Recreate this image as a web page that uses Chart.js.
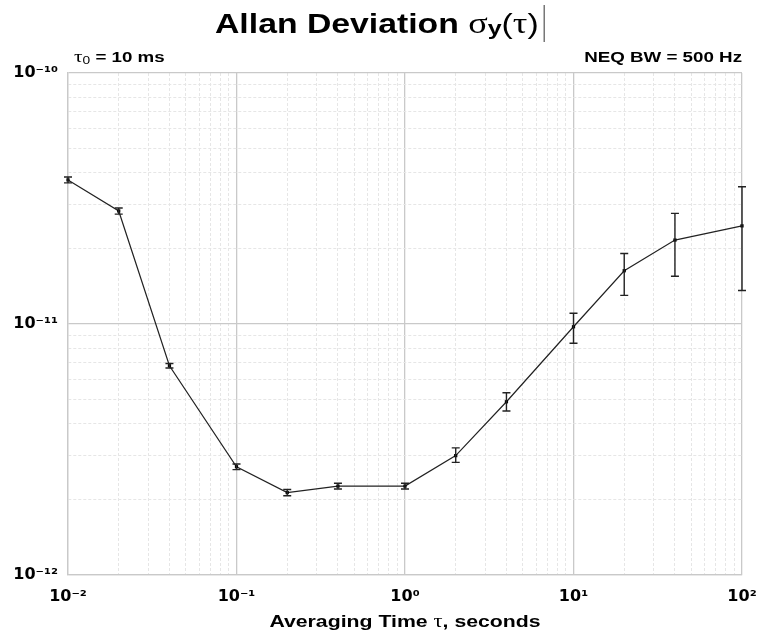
<!DOCTYPE html>
<html>
<head>
<meta charset="utf-8">
<title>Allan Deviation</title>
<script src="https://cdn.jsdelivr.net/npm/chart.js@4/dist/chart.umd.min.js"></script>
<style>
    html, body { margin: 0; padding: 0; background: #fff; }
    #wrap { width: 759px; height: 636px; position: relative; }
</style>
</head>
<body>
<div id="wrap"><canvas id="myChart"></canvas></div>
<script>
// Averaging times (s) and measured Allan deviation
const tau = [0.01, 0.02, 0.04, 0.1, 0.2, 0.4, 1, 2, 4, 10, 20, 40, 100];
const adev = [3.75e-11, 2.82e-11, 6.82e-12, 2.70e-12, 2.13e-12, 2.26e-12, 2.26e-12,
              2.99e-12, 4.90e-12, 9.75e-12, 1.63e-11, 2.16e-11, 2.46e-11];
// error bar ends
const errLow = [3.65e-11, 2.74e-11, 6.68e-12, 2.63e-12, 2.07e-12, 2.20e-12, 2.20e-12,
                2.81e-12, 4.50e-12, 8.38e-12, 1.30e-11, 1.55e-11, 1.36e-11];
const errHigh = [3.85e-11, 2.90e-11, 6.96e-12, 2.77e-12, 2.19e-12, 2.32e-12, 2.32e-12,
                 3.21e-12, 5.32e-12, 1.104e-11, 1.91e-11, 2.76e-11, 3.52e-11];

// ticks
const xDecades = [1e-2, 1e-1, 1, 10, 100];
const xTickLabels = ['10⁻²', '10⁻¹', '10⁰', '10¹', '10²'];
const yDecades = [1e-12, 1e-11, 1e-10];
const yTickLabels = ['10⁻¹²', '10⁻¹¹', '10⁻¹⁰'];
const minorSteps = [2, 3, 4, 5, 6, 7, 8, 9];

const SX = 1.25; // the original lettering is a bit wide

function gridTicks(decades) {
    const out = [];
    decades.forEach((d, i) => {
        out.push({ value: d });
        if (i < decades.length - 1) {
            minorSteps.forEach(m => out.push({ value: +(m * d).toPrecision(3) }));
        }
    });
    return out;
}

function isDecade(v) {
    const l = Math.log10(v);
    return Math.abs(l - Math.round(l)) < 1e-6;
}

function labelFor(v, decades, labels) {
    const i = decades.findIndex(d => Math.abs(Math.log10(d) - Math.log10(v)) < 1e-6);
    return i >= 0 ? labels[i] : '';
}

const gridStyle = {
    color: c => (c.tick && isDecade(c.tick.value)) ? '#c9c9c9' : '#e6e6e6',
    lineWidth: c => (c.tick && isDecade(c.tick.value)) ? 1.3 : 1,
    drawTicks: false
};
const borderStyle = {
    color: '#c9c9c9',
    width: 1.3,
    dash: c => (c.tick && !isDecade(c.tick.value)) ? [3, 2] : []
};
const tickFont = { family: '"DejaVu Sans", sans-serif', size: 16, weight: 'bold' };

// text drawn a bit stretched sideways
function wideText(ctx, parts, x, y, align) {
    ctx.save();
    let w = 0;
    parts.forEach(p => { ctx.font = p.font; w += ctx.measureText(p.text).width; });
    let startX = align === 'right' ? x - w * SX : align === 'center' ? x - w * SX / 2 : x;
    ctx.translate(startX, y);
    ctx.scale(SX, 1);
    ctx.textBaseline = 'alphabetic';
    ctx.textAlign = 'left';
    ctx.fillStyle = '#000';
    let cx = 0;
    parts.forEach(p => {
        ctx.font = p.font;
        ctx.fillText(p.text, cx, p.dy || 0);
        cx += ctx.measureText(p.text).width;
    });
    ctx.restore();
    return w * SX;
}

const textPlugin = {
    id: 'textPlugin',
    afterDraw(chart) {
        const ctx = chart.ctx;
        const area = chart.chartArea;
        const sans = '"Liberation Sans", Arial, sans-serif';
        const serif = '"Liberation Serif", "DejaVu Serif", serif';

        // main title
        const tw = wideText(ctx, [
            { text: 'Allan Deviation ', font: 'bold 27px ' + sans },
            { text: 'σ', font: '29px ' + serif },
            { text: 'y', font: 'bold 20px ' + sans, dy: 2 },
            { text: '(', font: '27px ' + sans },
            { text: 'τ', font: '29px ' + serif },
            { text: ')', font: '27px ' + sans }
        ], 215, 33, 'left');
        ctx.save();
        ctx.strokeStyle = '#333';
        ctx.lineWidth = 1;
        ctx.beginPath();
        ctx.moveTo(215 + tw + 5.5, 5);
        ctx.lineTo(215 + tw + 5.5, 42);
        ctx.stroke();
        ctx.restore();

        wideText(ctx, [
            { text: 'τ', font: '17px ' + serif },
            { text: '0', font: '11px ' + sans, dy: 2 },
            { text: ' = 10 ms', font: 'bold 15px ' + sans }
        ], area.left + 6, 62, 'left');

        wideText(ctx, [
            { text: 'NEQ BW = 500 Hz', font: 'bold 15px ' + sans }
        ], area.right, 62, 'right');

        // x axis title
        wideText(ctx, [
            { text: 'Averaging Time ', font: 'bold 17px ' + sans },
            { text: 'τ', font: '18px ' + serif },
            { text: ', seconds', font: 'bold 17px ' + sans }
        ], (area.left + area.right) / 2, 627, 'center');
    }
};

const errorBarPlugin = {
    id: 'errorBars',
    afterDatasetsDraw(chart) {
        const ctx = chart.ctx;
        const xs = chart.scales.x;
        const ys = chart.scales.y;
        ctx.save();
        ctx.strokeStyle = '#222';
        ctx.lineWidth = 1.4;
        tau.forEach((t, i) => {
            const x = xs.getPixelForValue(t);
            const y1 = ys.getPixelForValue(errLow[i]);
            const y2 = ys.getPixelForValue(errHigh[i]);
            ctx.beginPath();
            ctx.moveTo(x, y1);
            ctx.lineTo(x, y2);
            ctx.moveTo(x - 4, y1);
            ctx.lineTo(x + 4, y1);
            ctx.moveTo(x - 4, y2);
            ctx.lineTo(x + 4, y2);
            ctx.stroke();
        });
        ctx.restore();
    }
};

function updateChart() {
    const ctx = document.getElementById('myChart').getContext('2d');
    new Chart(ctx, {
        type: 'line',
        data: {
            datasets: [{
                label: 'σy(τ)',
                data: tau.map((t, i) => ({ x: t, y: adev[i] })),
                borderColor: '#222',
                borderWidth: 1.2,
                backgroundColor: '#000',
                pointStyle: 'rect',
                pointRadius: 2.3,
                pointBorderWidth: 0,
                tension: 0,
                clip: false
            }]
        },
        options: {
            responsive: true,
            maintainAspectRatio: false,
            animation: false,
            layout: { padding: { top: 73, right: 17, left: 0, bottom: 0 } },
            plugins: {
                legend: { display: false },
                title: { display: false },
                tooltip: { enabled: false }
            },
            scales: {
                x: {
                    type: 'logarithmic',
                    min: 0.01,
                    max: 100,
                    afterBuildTicks: s => { s.ticks = gridTicks(xDecades); },
                    afterFit: s => { s.height = 61; s.paddingLeft = 0; s.paddingRight = 0; },
                    grid: gridStyle,
                    border: borderStyle,
                    ticks: {
                        autoSkip: false,
                        maxRotation: 0,
                        padding: 12,
                        color: '#000',
                        font: tickFont,
                        callback: v => labelFor(v, xDecades, xTickLabels)
                    }
                },
                y: {
                    type: 'logarithmic',
                    min: 1e-12,
                    max: 1e-10,
                    afterBuildTicks: s => { s.ticks = gridTicks(yDecades); },
                    afterFit: s => { s.width = 68; s.paddingTop = 0; s.paddingBottom = 0; },
                    grid: gridStyle,
                    border: borderStyle,
                    ticks: {
                        autoSkip: false,
                        padding: 10,
                        color: '#000',
                        font: tickFont,
                        callback: v => labelFor(v, yDecades, yTickLabels)
                    }
                }
            }
        },
        plugins: [errorBarPlugin, textPlugin]
    });
}

document.addEventListener('DOMContentLoaded', updateChart);
</script>
</body>
</html>
